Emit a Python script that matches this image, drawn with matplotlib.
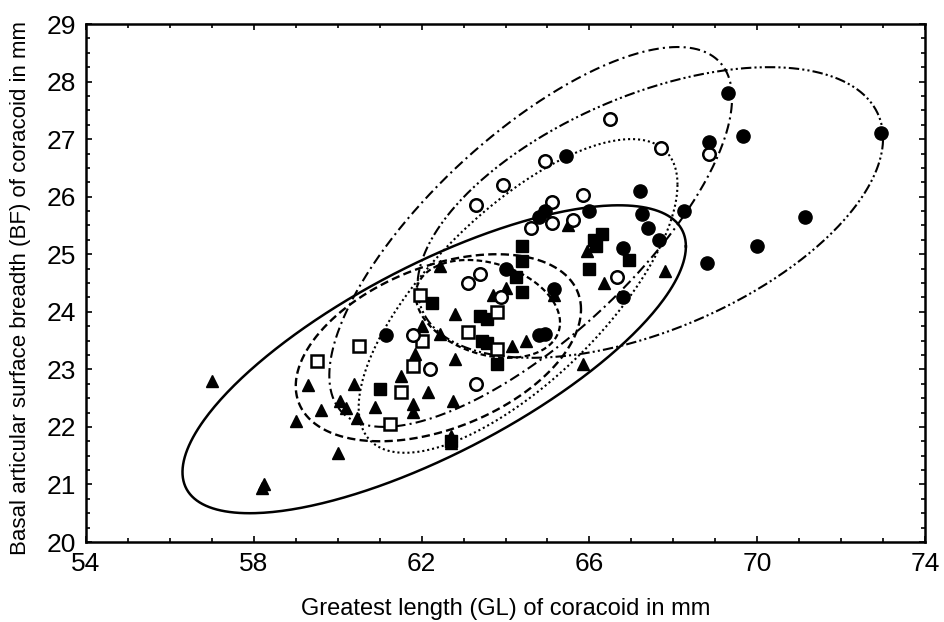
import numpy as np
import matplotlib
matplotlib.use("Agg")
import matplotlib.pyplot as plt
from matplotlib.ticker import MultipleLocator

plt.rcParams['font.family'] = ['Liberation Sans', 'DejaVu Sans']

# ---- data (GL, BF) per group ----
tri_x = [57.0, 58.25, 58.2, 59.0, 59.3, 59.6, 60.0, 60.05, 60.2, 60.45, 60.4, 60.9, 61.5,
         61.8, 61.8, 61.85, 62.0, 62.15, 62.45, 62.45, 62.8, 62.8, 62.75, 62.7, 62.7,
         63.7, 64.0, 64.15, 64.5, 65.5, 65.15, 65.85, 65.95, 66.35, 67.8]
tri_y = [22.8, 21.0, 20.93, 22.1, 22.73, 22.3, 21.55, 22.45, 22.32, 22.15, 22.75, 22.35, 22.88,
         22.4, 22.26, 23.26, 23.75, 22.6, 24.8, 23.61, 23.96, 23.18, 22.45, 21.85, 21.72,
         24.3, 24.42, 23.4, 23.5, 25.5, 24.3, 23.1, 25.05, 24.5, 24.7]

fsq_x = [61.0, 62.25, 62.7, 63.4, 63.57, 63.45, 63.55, 63.8, 64.25, 64.4, 64.4, 64.4,
         66.0, 66.15, 66.3, 66.95, 66.1]
fsq_y = [22.65, 24.15, 21.75, 23.93, 23.87, 23.5, 23.45, 23.1, 24.6, 25.15, 24.88, 24.35,
         24.75, 25.15, 25.35, 24.9, 25.25]

osq_x = [59.5, 60.5, 61.25, 61.5, 61.8, 61.95, 62.0, 63.1, 63.8, 63.8]
osq_y = [23.15, 23.4, 22.05, 22.6, 23.05, 24.3, 23.5, 23.65, 24.0, 23.35]

oci_x = [61.8, 62.2, 63.1, 63.4, 63.9, 63.3, 63.3, 63.95, 64.6, 64.95, 65.1, 65.1, 65.6,
         65.85, 66.5, 66.65, 67.7, 68.85]
oci_y = [23.6, 23.0, 24.5, 24.65, 24.25, 22.75, 25.85, 26.2, 25.45, 26.62, 25.9, 25.55, 25.6,
         26.03, 27.35, 24.6, 26.85, 26.75]

fci_x = [61.15, 64.0, 64.8, 64.95, 64.95, 64.8, 65.15, 65.45, 66.0, 66.8, 66.8, 67.2, 67.25,
         67.4, 67.65, 68.25, 68.85, 68.8, 69.3, 69.65, 70.0, 71.15, 72.95]
fci_y = [23.6, 24.75, 23.6, 23.62, 25.75, 25.65, 24.4, 26.7, 25.75, 25.1, 24.25, 26.1, 25.7,
         25.45, 25.25, 25.75, 26.95, 24.85, 27.8, 27.05, 25.15, 25.65, 27.1]

# ellipses: centre x, centre y, half x-extent, half y-extent, cos(phase)
ell_cx = [62.3, 62.4, 63.58, 64.3, 64.6, 67.45]
ell_cy = [23.175, 23.375, 24.05, 24.275, 25.3, 25.725]
ell_ax = [6.0, 3.4, 1.72, 3.8, 4.8, 5.55]
ell_ay = [2.675, 1.625, 0.85, 2.725, 3.3, 2.525]
ell_cp = [0.733, 0.41, -0.28, 0.71, 0.73, 0.51]
ell_ls = ['-', (0, (3.5, 1.8)), (0, (2.5, 1.5)), (0, (1, 1.4)), (0, (5, 2, 1, 2)),
          (0, (5, 1.5, 1, 1.5, 1, 1.5))]
ell_lw = [1.8, 1.7, 1.6, 1.5, 1.5, 1.5]

fig = plt.figure(figsize=(9.44, 6.22), dpi=100)
ax = fig.add_axes([86/944, 1-542/622, (925-86)/944, (542-24)/622])

t = np.linspace(0, 2*np.pi, 400)
for cx, cy, a, b, cp, ls, lw in zip(ell_cx, ell_cy, ell_ax, ell_ay, ell_cp, ell_ls, ell_lw):
    phi = np.arccos(cp)
    ax.plot(cx + a*np.cos(t), cy + b*np.cos(t - phi), color='black', ls=ls, lw=lw, zorder=2)

ms = 9
ax.plot(tri_x, tri_y, ls='none', marker='^', ms=ms, mfc='black', mec='black', zorder=3)
ax.plot(fsq_x, fsq_y, ls='none', marker='s', ms=ms-0.5, mfc='black', mec='black', zorder=3)
ax.plot(osq_x, osq_y, ls='none', marker='s', ms=ms-0.5, mfc='white', mec='black', mew=1.8, zorder=3)
ax.plot(oci_x, oci_y, ls='none', marker='o', ms=ms, mfc='white', mec='black', mew=1.8, zorder=3)
ax.plot(fci_x, fci_y, ls='none', marker='o', ms=ms+0.5, mfc='black', mec='black', zorder=3)

ax.set_xlim(54, 74)
ax.set_ylim(20, 29)
ax.set_xticks([54, 58, 62, 66, 70, 74])
ax.set_yticks(range(20, 30))
ax.xaxis.set_minor_locator(MultipleLocator(1))
ax.yaxis.set_minor_locator(MultipleLocator(0.25))
ax.tick_params(which='both', direction='in', top=True, right=True, width=1.2)
ax.tick_params(which='major', length=4, labelsize=19, pad=7)
ax.tick_params(which='minor', length=3)
for s in ax.spines.values():
    s.set_linewidth(1.8)

ax.set_xlabel('Greatest length (GL) of coracoid in mm', fontsize=17, labelpad=16)
ax.set_ylabel('Basal articular surface breadth (BF) of coracoid in mm', fontsize=16)
ax.yaxis.set_label_coords(-0.066, 0.49)

fig.savefig('out.png', dpi=100)
